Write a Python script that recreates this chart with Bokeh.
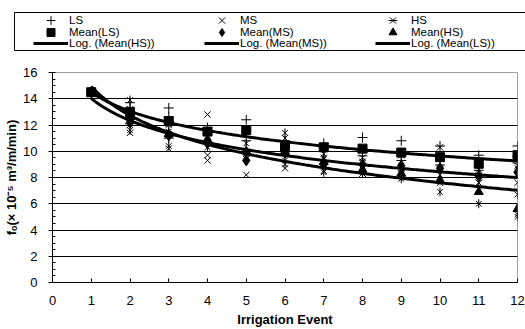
import numpy as np
from bokeh.plotting import figure
from bokeh.layouts import column
from bokeh.models import Legend, LegendItem, FixedTicker, Range1d, BoxAnnotation
from bokeh.embed import file_html
from bokeh.resources import INLINE

events = [1, 2, 3, 4, 5, 6, 7, 8, 9, 10, 11, 12]
x_ticks = [0, 1, 2, 3, 4, 5, 6, 7, 8, 9, 10, 11, 12]
y_ticks = [0, 2, 4, 6, 8, 10, 12, 14, 16]

ls_rep1 = [14.5, 13.7, 13.3, 11.8, 12.4, 10.8, 10.6, 11.05, 10.8, 10.4, 9.7, 10.4]
ls_rep2 = [14.5, 13.2, 12.6, 11.4, 11.6, 10.3, 10.3, 9.9, 9.6, 9.3, 8.9, 9.6]
ls_rep3 = [14.5, 12.1, 11.0, 11.3, 10.8, 9.8, 10.0, 9.65, 9.3, 8.95, 8.55, 9.1]
ms_rep1 = [14.5, 11.4, 10.2, 12.8, 8.2, 11.0, 9.5, 9.5, 9.7, 10.3, 8.6, 8.9]
ms_rep2 = [14.5, 12.0, 11.3, 9.7, 9.8, 8.7, 8.5, 9.2, 8.7, 8.2, 8.1, 7.6]
ms_rep3 = [14.5, 13.2, 12.1, 9.3, 9.9, 10.0, 9.0, 8.3, 8.3, 7.6, 7.6, 8.7]
hs_rep1 = [14.5, 13.9, 10.4, 11.6, 10.6, 11.4, 9.8, 9.2, 8.9, 8.7, 7.6, 5.0]
hs_rep2 = [14.5, 12.3, 11.5, 10.8, 10.0, 9.3, 9.4, 8.3, 8.1, 7.8, 7.1, 5.2]
hs_rep3 = [14.5, 11.6, 12.0, 10.3, 9.4, 9.0, 8.4, 8.3, 7.9, 6.9, 6.0, 6.7]

ls_mean = [14.5, 13.0, 12.3, 11.5, 11.6, 10.3, 10.3, 10.2, 9.9, 9.55, 9.05, 9.7]
ms_mean = [14.5, 12.2, 11.2, 10.6, 9.3, 9.9, 9.0, 9.0, 8.9, 8.7, 8.1, 8.4]
hs_mean = [14.5, 12.6, 11.3, 10.9, 10.0, 9.9, 9.2, 8.6, 8.3, 7.8, 6.9, 5.6]

FONT = "Liberation Sans"
W, H = 525, 329
LH = 60

# ---------------- main chart ----------------
p = figure(width=W, height=H - LH, output_backend="svg", toolbar_location=None,
           x_range=Range1d(0, 12), y_range=Range1d(0, 16),
           min_border_left=52, min_border_right=8, min_border_top=12, min_border_bottom=45)
p.frame_align = False
p.background_fill_color = "white"
p.border_fill_color = "white"
p.outline_line_color = "#a0a0a0"
p.outline_line_width = 1

p.xgrid.visible = False
p.ygrid.ticker = FixedTicker(ticks=y_ticks[1:-1])
p.ygrid.grid_line_color = "black"
p.ygrid.grid_line_width = 1

p.xaxis.ticker = FixedTicker(ticks=x_ticks)
p.yaxis.ticker = FixedTicker(ticks=y_ticks, minor_ticks=list(np.arange(0, 16.01, 0.5)))
for ax in (p.xaxis[0], p.yaxis[0]):
    ax.axis_line_color = "black"
    ax.major_tick_line_color = "black"
    ax.minor_tick_line_color = "black"
    ax.major_label_text_font = FONT
    ax.major_label_text_font_size = "13px"
    ax.major_label_text_color = "black"
    ax.axis_label_text_font = FONT
    ax.axis_label_text_font_style = "bold"
    ax.axis_label_text_color = "black"

p.xaxis.major_tick_in = 4
p.xaxis.major_tick_out = 0
p.xaxis.minor_tick_line_color = None
p.xaxis.major_label_standoff = 13
p.xaxis.axis_label = "Irrigation Event"
p.xaxis.axis_label_text_font_size = "13px"
p.xaxis.axis_label_standoff = 4

p.yaxis.major_tick_in = 0
p.yaxis.major_tick_out = 4
p.yaxis.minor_tick_in = 3
p.yaxis.minor_tick_out = 0
p.yaxis.major_label_standoff = 11
p.yaxis.axis_label = "fₒ(× 10⁻⁵ m³/m/min)"
p.yaxis.axis_label_text_font_size = "13px"
p.yaxis.axis_label_standoff = 1

all_x = events * 3
p.scatter(all_x, ls_rep1 + ls_rep2 + ls_rep3, marker="cross", size=10,
          line_color="black", line_width=1)
p.scatter(all_x, ms_rep1 + ms_rep2 + ms_rep3, marker="x", size=9,
          line_color="black", line_width=1)
hs_vals = hs_rep1 + hs_rep2 + hs_rep3
p.scatter(all_x, hs_vals, marker="x", size=8, line_color="black", line_width=1)
p.scatter(all_x, hs_vals, marker="dash", size=9, angle=np.pi / 2,
          line_color="black", line_width=1)

p.scatter(events, ls_mean, marker="square", size=9, color="black")
p.scatter(events, ms_mean, marker="diamond", size=11, color="black")
p.scatter(events, hs_mean, marker="triangle", size=9, color="black")

xs = np.linspace(1, 12, 200)
def log_fit(vals):
    a, b = np.polyfit(np.log(events), vals, 1)
    return a * np.log(xs) + b

p.line(xs, log_fit(ls_mean), line_color="black", line_width=3)
p.line(xs, log_fit(ms_mean), line_color="black", line_width=3)
p.line(xs, log_fit(hs_mean), line_color="black", line_width=3)

# ---------------- legend strip ----------------
lf = figure(width=W, height=LH, output_backend="svg", toolbar_location=None,
            x_range=Range1d(0, W), y_range=Range1d(0, LH),
            x_axis_type=None, y_axis_type=None, min_border=0)
lf.frame_align = False
lf.outline_line_color = None
lf.grid.visible = False

NA = [np.nan]
def proxy(**kw):
    return lf.scatter(x=NA, y=NA, **kw)

g_ls = proxy(marker="cross", line_color="black", line_width=1)
g_ms = proxy(marker="x", line_color="black", line_width=1)
g_hs1 = proxy(marker="x", line_color="black", line_width=1)
g_hs2 = proxy(marker="dash", angle=np.pi / 2, line_color="black", line_width=1)
g_lsm = proxy(marker="square", color="black")
g_msm = proxy(marker="diamond", color="black")
g_hsm = proxy(marker="triangle", color="black")
g_line = lf.line(x=NA, y=NA, line_color="black", line_width=3)

legend_rows = [
    ([("LS", [g_ls]), ("MS", [g_ms]), ("HS", [g_hs1, g_hs2])], 20.3, 22),
    ([("Mean(LS)", [g_lsm]), ("Mean(MS)", [g_msm]), ("Mean(HS)", [g_hsm])], 31.8, 20),
    ([("Log. (Mean(HS))", [g_line]), ("Log. (Mean(MS))", [g_line]),
      ("Log. (Mean(LS))", [g_line])], 43.2, 12),
]
for row_items, center, gh in legend_rows:
    lg = Legend(items=[LegendItem(label=t, renderers=r) for t, r in row_items],
                orientation="horizontal", location=(33, LH - center - gh / 2),
                label_text_font=FONT, label_text_font_size="11.5px", label_text_color="black",
                label_height=gh, glyph_height=gh, glyph_width=35, label_standoff=1,
                label_width=135, spacing=0, padding=0, margin=0,
                border_line_color=None, background_fill_alpha=0)
    lf.add_layout(lg, "center")

box = BoxAnnotation(left=14, right=W + 20, top=LH - 12, bottom=LH - 50,
                    fill_alpha=0, line_color="black", line_alpha=1, line_width=1)
lf.add_layout(box)

layout = column(lf, p, spacing=0)
open("out.html", "w").write(file_html(layout, INLINE))
